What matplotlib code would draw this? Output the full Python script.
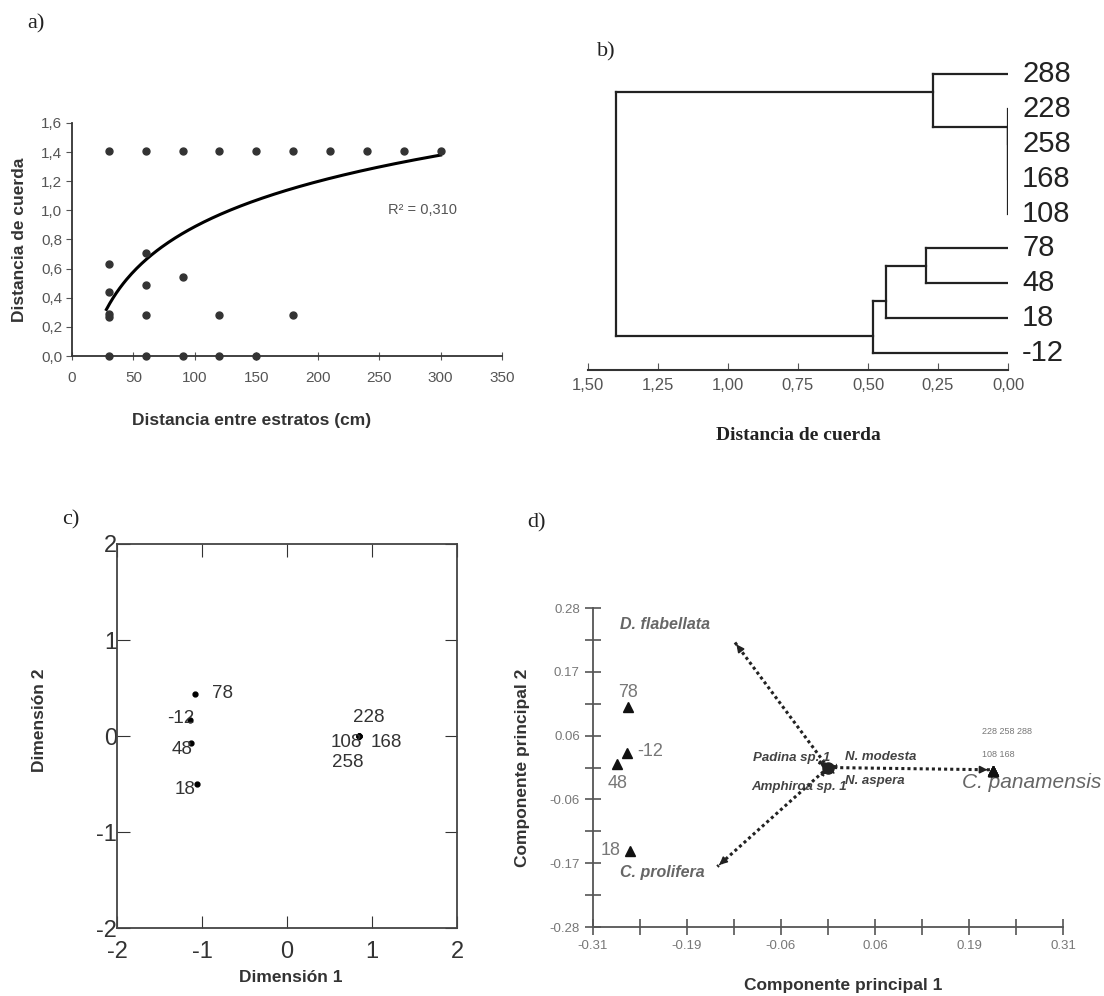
import numpy as np
import matplotlib.pyplot as plt

plt.rcParams['font.family'] = ['Liberation Sans', 'DejaVu Sans']
plt.rcParams['axes.unicode_minus'] = False

W, H = 1104, 996

# a) distancia de cuerda vs distancia entre estratos
dist_x = [30, 30, 30, 30, 30, 30, 60, 60, 60, 60, 60, 90, 90, 90, 120, 120, 120,
          150, 150, 180, 180, 210, 240, 270, 300]
dist_y = [1.41, 0.63, 0.44, 0.29, 0.27, 0.0, 1.41, 0.71, 0.49, 0.28, 0.0, 1.41, 0.54,
          0.0, 1.41, 0.28, 0.0, 1.41, 0.0, 1.41, 0.28, 1.41, 1.41, 1.41, 1.41]
# logarithmic trend line  y = a*ln(x) + b
trend_a = 0.447
trend_b = -1.17
r2_text = "R² = 0,310"

# b) dendrogram
leaves = ['288', '228', '258', '168', '108', '78', '48', '18', '-12']
# (upper child, lower child, height); new clusters numbered from len(leaves)
merges = [(1, 2, 0.0), (9, 3, 0.0), (10, 4, 0.0), (0, 11, 0.268),
          (5, 6, 0.294), (13, 7, 0.435), (14, 8, 0.482), (12, 15, 1.401)]
b_ticks = [1.5, 1.25, 1.0, 0.75, 0.5, 0.25, 0.0]

# c) MDS
mds_labels = ['78', '-12', '48', '18', '228', '108', '168', '258']
mds_x = [-1.08, -1.14, -1.13, -1.06, 0.85, 0.85, 0.85, 0.85]
mds_y = [0.44, 0.17, -0.07, -0.50, 0.0, 0.0, 0.0, 0.0]

# d) PCA
pca_labels = ['78', '-12', '48', '18', '108', '168', '228', '258', '288']
pca_x = [-0.264, -0.265, -0.278, -0.261, 0.218, 0.218, 0.218, 0.218, 0.218]
pca_y = [0.106, 0.026, 0.006, -0.146, -0.006, -0.006, -0.006, -0.006, -0.006]
species = ['D. flabellata', 'C. prolifera', 'C. panamensis', 'Padina sp. 1',
           'N. modesta', 'N. aspera', 'Amphiroa sp. 1']
vec_x = [-0.123, -0.146, 0.214, -0.012, 0.012, 0.008, -0.008]
vec_y = [0.220, -0.174, -0.004, 0.010, 0.003, -0.010, -0.014]


def fr(l, t, r, b):
    return [l / W, 1 - b / H, (r - l) / W, (b - t) / H]


def px(x, y):
    return x / W, 1 - y / H


fig = plt.figure(figsize=(W / 100, H / 100), dpi=100)

# ---------------- a)
ax = fig.add_axes(fr(72, 123, 502, 356))
ax.plot(dist_x, dist_y, 'o', ms=5, color='#333333', zorder=3, clip_on=False)
xs = np.linspace(min(dist_x) - 2, max(dist_x), 200)
ax.plot(xs, trend_a * np.log(xs) + trend_b, color='black', lw=2.2)
ax.text(257, 1.0, r2_text, fontsize=10.5, color='#555555', va='center')
ax.set_xlim(0, 350)
ax.set_ylim(0, 1.6)
ax.set_xticks(np.arange(0, 351, 50))
ax.set_yticks(np.arange(0, 1.61, 0.2))
ax.set_yticklabels([f"{v:.1f}".replace('.', ',') for v in np.arange(0, 1.61, 0.2)])
for s in ['top', 'right']:
    ax.spines[s].set_visible(False)
for s in ['left', 'bottom']:
    ax.spines[s].set_color('#333333')
    ax.spines[s].set_linewidth(1.3)
ax.tick_params(axis='x', direction='inout', length=6, labelsize=11, colors='#555555', pad=8)
ax.tick_params(axis='y', direction='out', length=4, labelsize=11, colors='#555555', pad=3)
ax.set_facecolor('none')
fig.text(*px(20, 240), 'Distancia de cuerda', rotation=90, fontsize=12.5,
         fontweight='bold', color='#333333', ha='center', va='center')
fig.text(*px(252, 420), 'Distancia entre estratos (cm)', fontsize=12.5,
         fontweight='bold', color='#333333', ha='center', va='center')

# ---------------- b)
ax = fig.add_axes(fr(588, 57, 1008, 370))
n = len(leaves)
ypos = {i: float(n - 1 - i) for i in range(n)}
span = {i: (ypos[i], ypos[i]) for i in range(n)}
hgt = {i: 0.0 for i in range(n)}
internal = set()
for k, (c1, c2, h) in enumerate(merges):
    node = n + k
    y1, y2 = ypos[c1], ypos[c2]
    ax.plot([hgt[c1], h], [y1, y1], color='#222222', lw=1.6)
    ax.plot([hgt[c2], h], [y2, y2], color='#222222', lw=1.6)
    ax.plot([h, h], [y1, y2], color='#222222', lw=1.6)
    if c1 in internal and hgt[c1] == h:
        ypos[node] = y1
    else:
        # branch drawn at the gap between the two child clusters
        ypos[node] = (span[c1][0] + span[c2][1]) / 2
    span[node] = (min(span[c1][0], span[c2][0]), max(span[c1][1], span[c2][1]))
    hgt[node] = h
    internal.add(node)
for i, lab in enumerate(leaves):
    ax.text(-0.05, ypos[i], lab, fontsize=21, va='center', ha='left', color='#222222')
ax.set_xlim(1.5, 0)
ax.set_ylim(-0.49, 8.5)
ax.set_xticks(b_ticks)
ax.set_xticklabels([f"{v:.2f}".replace('.', ',') for v in b_ticks])
ax.set_yticks([])
for s in ['top', 'right', 'left']:
    ax.spines[s].set_visible(False)
ax.spines['bottom'].set_linewidth(1.5)
ax.spines['bottom'].set_color('#333333')
ax.tick_params(axis='x', direction='in', length=5, labelsize=12, colors='#555555', pad=6)
ax.set_facecolor('none')
fig.text(*px(798, 436), 'Distancia de cuerda', fontsize=14, fontweight='bold',
         family='Liberation Serif', color='#222222', ha='center', va='center')

# ---------------- c)
ax = fig.add_axes(fr(117, 544, 457, 928))
ax.plot(mds_x, mds_y, 'o', ms=3.5, color='black')
c_off = {'78': (17, 0, 'left'), '-12': (4, 1, 'right'), '48': (2, -7, 'right'),
         '18': (-1, -5, 'right'), '228': (9, 19, 'center'), '108': (3, -6, 'right'),
         '168': (11, -6, 'left'), '258': (4, -26, 'right')}
for lab, x, y in zip(mds_labels, mds_x, mds_y):
    dx, dy, ha = c_off[lab]
    ax.annotate(lab, (x, y), xytext=(dx, dy), textcoords='offset pixels',
                fontsize=13.5, color='#333333', ha=ha, va='center')
ax.set_xlim(-2, 2)
ax.set_ylim(-2, 2)
ax.set_xticks([-2, -1, 0, 1, 2])
ax.set_yticks([-2, -1, 0, 1, 2])
for s in ax.spines.values():
    s.set_color('#444444')
    s.set_linewidth(1.3)
ax.tick_params(direction='in', length=9, top=True, right=True, labelsize=17,
               colors='#333333')
ax.tick_params(axis='y', pad=0)
ax.tick_params(axis='x', pad=9)
ax.set_facecolor('none')
fig.text(*px(40, 720), 'Dimensión 2', rotation=90, fontsize=12.5, fontweight='bold',
         color='#333333', ha='center', va='center')
fig.text(*px(291, 977), 'Dimensión 1', fontsize=12.5, fontweight='bold',
         color='#333333', ha='center', va='center')

# ---------------- d)
ax = fig.add_axes(fr(593, 608, 1063, 927))
for i, (sp, vx, vy) in enumerate(zip(species, vec_x, vec_y)):
    ax.plot([0, vx], [0, vy], ls=(0, (1, 1)), lw=2.2 if i < 3 else 3, color='#222222')
    ax.annotate('', xy=(vx, vy), xytext=(vx * 0.96, vy * 0.96),
                arrowprops=dict(arrowstyle='-|>', color='#222222', lw=1.2,
                                mutation_scale=11 if i < 3 else 8))
ax.plot([0], [0], 'o', ms=8, color='#222222')
sp_style = {'D. flabellata': (-115, 18, 'left', 11.5, 'bold', '#666666'),
            'C. prolifera': (-97, -6, 'left', 11.5, 'bold', '#666666'),
            'C. panamensis': (-28, -13, 'left', 15, 'normal', '#666666'),
            'Padina sp. 1': (11, 4, 'right', 9.5, 'bold', '#444444'),
            'N. modesta': (8, 9, 'left', 9.5, 'bold', '#444444'),
            'N. aspera': (11, -8, 'left', 9.5, 'bold', '#444444'),
            'Amphiroa sp. 1': (-71, -12, 'left', 9.5, 'bold', '#444444')}
for sp, vx, vy in zip(species, vec_x, vec_y):
    dx, dy, ha, fs, fw, col = sp_style[sp]
    ax.annotate(sp, (vx, vy), xytext=(dx, dy), textcoords='offset pixels',
                fontsize=fs, fontweight=fw, style='italic', color=col,
                ha=ha, va='center', annotation_clip=False)
ax.plot(pca_x, pca_y, '^', ms=7, color='#111111', zorder=4)
d_off = {'78': (0, 15, 'center'), '-12': (10, 1, 'left'), '48': (0, -19, 'center'),
         '18': (-10, 0, 'right')}
for lab, x, y in zip(pca_labels, pca_x, pca_y):
    if lab in d_off:
        dx, dy, ha = d_off[lab]
        ax.annotate(lab, (x, y), xytext=(dx, dy), textcoords='offset pixels',
                    fontsize=13, color='#777777', ha=ha, va='center')
group_top = ' '.join(pca_labels[6:])
group_bot = ' '.join(pca_labels[4:6])
ax.annotate(group_top, (pca_x[-1], pca_y[-1]), xytext=(-11, 39), textcoords='offset pixels',
            fontsize=6.5, color='#777777', ha='left', va='center', annotation_clip=False)
ax.annotate(group_bot, (pca_x[-1], pca_y[-1]), xytext=(-11, 16), textcoords='offset pixels',
            fontsize=6.5, color='#777777', ha='left', va='center', annotation_clip=False)
xt = np.linspace(-0.31, 0.31, 11)
yt = np.linspace(-0.28, 0.28, 11)
ax.set_xlim(-0.31, 0.31)
ax.set_ylim(-0.28, 0.28)
ax.set_xticks(xt)
ax.set_xticklabels([f"{v:.2f}" if i % 2 == 0 else '' for i, v in enumerate(xt)])
ax.set_yticks(yt)
ax.set_yticklabels([f"{v:.2f}" if i % 2 == 0 else '' for i, v in enumerate(yt)])
for s in ['top', 'right']:
    ax.spines[s].set_visible(False)
for s in ['left', 'bottom']:
    ax.spines[s].set_color('#555555')
    ax.spines[s].set_linewidth(1.3)
ax.tick_params(direction='inout', length=11, width=1.2, color='#555555',
               labelsize=9.5, labelcolor='#777777', pad=4)
ax.set_facecolor('none')
fig.text(*px(522, 768), 'Componente principal 2', rotation=90, fontsize=12.5,
         fontweight='bold', color='#333333', ha='center', va='center')
fig.text(*px(843, 985), 'Componente principal 1', fontsize=12.5, fontweight='bold',
         color='#333333', ha='center', va='center')

# panel letters
for lab, (x, y) in zip(['a)', 'b)', 'c)', 'd)'], [(27, 24), (597, 52), (62, 520), (527, 523)]):
    fig.text(*px(x, y), lab, fontsize=16, family='Liberation Serif', color='#222222',
             ha='left', va='center')

fig.savefig('out.png', dpi=100)
